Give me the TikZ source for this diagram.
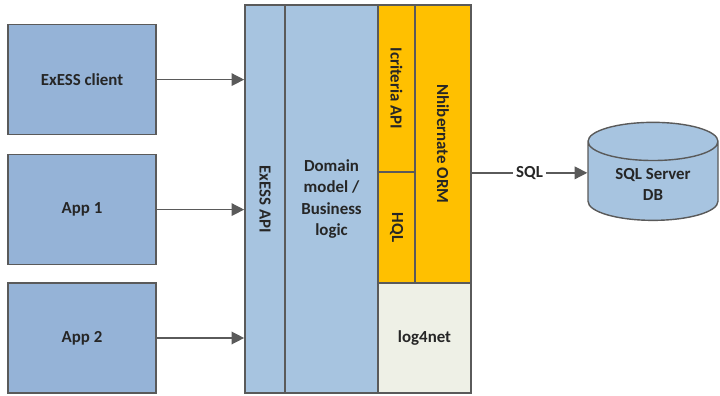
\documentclass[tikz,border=0pt]{standalone}
\usepackage{fontspec}
\setmainfont{Carlito}
\usetikzlibrary{arrows.meta,shapes.geometric}
\definecolor{appblue}{HTML}{95B3D7}
\definecolor{layerblue}{HTML}{A7C4E0}
\definecolor{ormyellow}{HTML}{FFC000}
\definecolor{logwhite}{HTML}{EEF0E6}
\definecolor{edgegray}{HTML}{5A5A5A}
\definecolor{textdark}{HTML}{262626}
\tikzset{
    box-font/.style = {font=\bfseries\fontsize{12}{15}\selectfont, text=textdark},
    app-box/.style = {draw=edgegray, fill=appblue, line width=1.2pt, rectangle, minimum width=3.7cm, minimum height=2.75cm, box-font},
    layer-box/.style = {draw=edgegray, fill=layerblue, line width=1.2pt, rectangle, inner sep=0pt, align=center, box-font},
    orm-box/.style = {layer-box, fill=ormyellow},
    log-box/.style = {layer-box, fill=logwhite},
    db-node/.style = {draw=edgegray, fill=layerblue, line width=1pt, cylinder, shape border rotate=90, aspect=0.45, minimum width=3.25cm, minimum height=2.45cm, align=center, box-font},
    call-arrow/.style = {draw=edgegray, line width=1pt, -{Triangle[length=9pt,width=9pt]}},
}

\begin{document}
\begin{tikzpicture}
\useasboundingbox (0,0) rectangle (18,-9.9);

% clients
\node [app-box] (client) at (2.05,-1.99) {ExESS client};
\node [app-box] (app1) at (2.05,-5.24) {App 1};
\node [app-box] (app2) at (2.05,-8.45) {App 2};

% server layers
\node [layer-box, minimum width=1cm, minimum height=9.7cm] (api) at (6.625,-4.975) {\rotatebox{-90}{ExESS API}};
\node [layer-box, minimum width=2.325cm, minimum height=9.7cm] (domain) at (8.2875,-4.975) {Domain\\model /\\Business\\logic};
\node [orm-box, minimum width=0.925cm, minimum height=4.175cm] (criteria) at (9.9125,-2.2125) {\rotatebox{-90}{Icriteria API}};
\node [orm-box, minimum width=0.925cm, minimum height=2.775cm] (hql) at (9.9125,-5.6875) {\rotatebox{-90}{HQL}};
\node [orm-box, minimum width=1.4cm, minimum height=6.95cm] (nhib) at (11.075,-3.6) {\rotatebox{-90}{Nhibernate ORM}};
\node [log-box, minimum width=2.325cm, minimum height=2.75cm] (log) at (10.6125,-8.45) {log4net};

% database
\node [db-node] (db) at (16.325,-4.62) {SQL Server\\DB};

\draw [call-arrow] (client.east) -- (client.east -| api.west);
\draw [call-arrow] (app1.east) -- (app1.east -| api.west);
\draw [call-arrow] (app2.east) -- (app2.east -| api.west);
\draw [call-arrow] (criteria.south -| nhib.east) -- node [fill=white, inner sep=2pt, box-font] {SQL} (criteria.south -| db.west);
\end{tikzpicture}
\end{document}
